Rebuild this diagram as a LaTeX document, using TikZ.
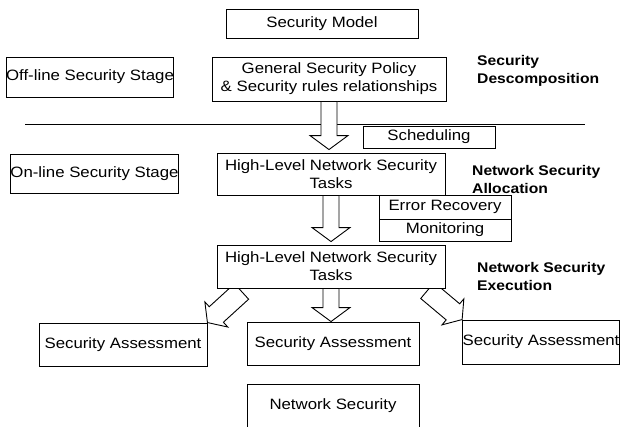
\documentclass[tikz,border=0pt]{standalone}
\usepackage{fontspec}
\setmainfont{Liberation Sans}[FakeStretch=1.12]
\usetikzlibrary{calc}
\pgfdeclarelayer{bg}
\pgfsetlayers{bg,main}
\newcommand\mainsz{\fontsize{15}{18}\selectfont}
\newcommand\labsz{\fontsize{14}{18.5}\selectfont\bfseries}
% hollow block arrow from #1 (start of shaft) to #2 (tip)
% #3 shaft half-width, #4 head half-width, #5 head length
\newcommand\fatarrow[5]{%
  \coordinate (fa-a) at (#1);
  \coordinate (fa-b) at (#2);
  \coordinate (fa-h) at ($(fa-b)!#5!(fa-a)$);
  \draw[hollow] ($(fa-a)!#3!90:(fa-b)$) -- ($(fa-h)!#3!90:(fa-b)$)
    -- ($(fa-h)!#4!90:(fa-b)$) -- (fa-b) -- ($(fa-h)!#4!-90:(fa-b)$)
    -- ($(fa-h)!#3!-90:(fa-b)$) -- ($(fa-a)!#3!-90:(fa-b)$) -- cycle;
}
\begin{document}
\begin{tikzpicture}[x=1pt,y=-1pt,
  box/.style={draw=black, line width=0.9pt, fill=white, inner sep=0pt, align=center, font=\mainsz},
  lab/.style={inner sep=0pt, align=left, anchor=north west, font=\labsz},
  hollow/.style={draw=black, line width=0.9pt, fill=white, line join=miter},
  divider/.style={draw=black, line width=0.9pt}]
\useasboundingbox (0,0) rectangle (620,426);

% divider line
\coordinate (l1) at (25,124);
\coordinate (l2) at (585,124);
\draw[divider] (l1) -- (l2);

% boxes
\node[box, minimum width=192pt, minimum height=29pt] (sm) at (322,23.5) {Security Model};
\node[box, minimum width=164pt, minimum height=40pt] (off) at (90,77) {Off-line Security Stage};
\node[box, minimum width=234pt, minimum height=44pt] (gsp) at (329,79) {General Security Policy\\\& Security rules relationships};
\node[box, minimum width=132pt, minimum height=22pt] (sched) at (429,137) {Scheduling};
\node[box, minimum width=163pt, minimum height=39pt] (on) at (94.5,173.5) {On-line Security Stage};
\node[box, minimum width=228pt, minimum height=42pt] (hl1) at (331,174) {High-Level Network Security\\Tasks};
\node[box, minimum width=132pt, minimum height=24pt] (er) at (445,207) {Error Recovery};
\node[box, minimum width=132pt, minimum height=22pt] (mon) at (445,230) {Monitoring};
\node[box, minimum width=228pt, minimum height=43pt] (hl2) at (331,266.5) {High-Level Network Security\\Tasks};
\node[box, minimum width=168pt, minimum height=43pt] (sa1) at (123,344.5) {Security Assessment};
\node[box, minimum width=172pt, minimum height=43pt] (sa2) at (333,343.5) {Security Assessment};
\node[box, minimum width=156pt, minimum height=44pt] (sa3) at (541,342) {Security Assessment};
\node[box, minimum width=172pt, minimum height=44pt] (ns) at (333,406) {Network Security};

% side labels
\node[lab] (sd) at (477,55) {Security\\Descomposition};
\node[lab] (nsa) at (472,165) {Network Security\\Allocation};
\node[lab] (nse) at (477,262) {Network Security\\Execution};

% block arrows
\fatarrow{gsp.south}{$([yshift=3pt]gsp.south |- hl1.north)$}{8pt}{19pt}{14pt}
\fatarrow{hl1.south}{$([yshift=3pt]hl1.south |- hl2.north)$}{8pt}{19pt}{14pt}
\fatarrow{hl2.south}{$(hl2.south |- sa2.north)$}{8pt}{19pt}{14pt}
\begin{pgfonlayer}{bg}
\fatarrow{$([xshift=25pt,yshift=-3pt]hl2.south west)$}{sa1.north east}{10.5pt}{17pt}{12pt}
\fatarrow{$([xshift=-18pt,yshift=-2pt]hl2.south east)$}{sa3.north west}{10.5pt}{17pt}{12pt}
\end{pgfonlayer}
\end{tikzpicture}
\end{document}
